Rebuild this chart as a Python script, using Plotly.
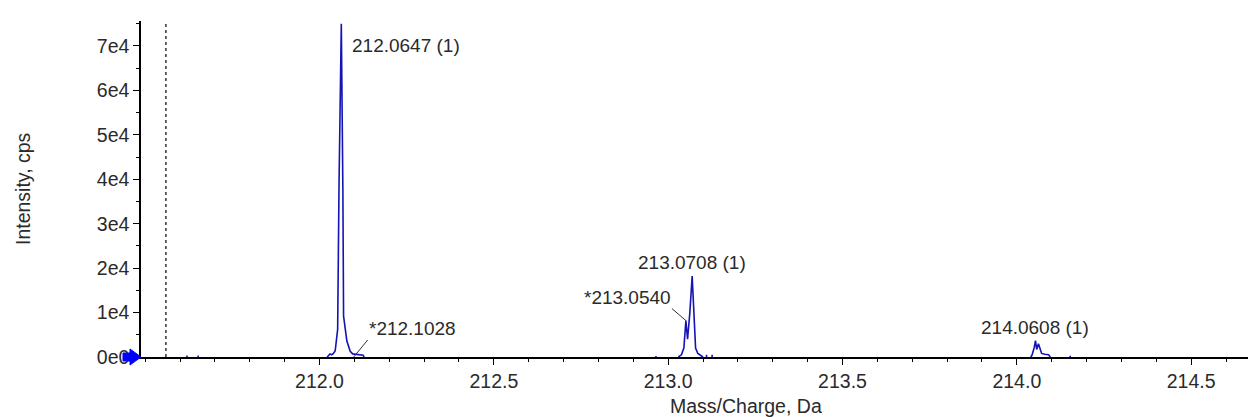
import plotly.graph_objects as go

# ---- data ----
peak1_mz = [212.022, 212.026, 212.030, 212.035, 212.040, 212.045, 212.052, 212.056, 212.0625,
            212.067, 212.069, 212.0785, 212.088, 212.095, 212.105, 212.115, 212.125, 212.128]
peak1_int = [0, 500, 700, 500, 800, 1400, 6200, 39000, 75000,
             38000, 9200, 3600, 1300, 700, 600, 500, 400, 0]

peak2_mz = [213.029, 213.038, 213.045, 213.0508, 213.0556, 213.0622, 213.0688, 213.0728,
            213.0786, 213.085, 213.0958, 213.100]
peak2_int = [0, 500, 2000, 8200, 4000, 10000, 18200, 10000, 2000, 800, 300, 0]

peak3_mz = [214.040, 214.044, 214.050, 214.0535, 214.057, 214.062, 214.066, 214.071, 214.080,
            214.091, 214.096]
peak3_int = [0, 500, 2200, 3700, 1700, 3000, 2000, 800, 600, 500, 0]

noise_mz = [211.620, 211.652, 212.965, 213.110, 213.126, 214.153]
noise_int = [350, 350, 250, 500, 500, 300]

x_tickvals = [212.0, 212.5, 213.0, 213.5, 214.0, 214.5]
x_ticktext = ["212.0", "212.5", "213.0", "213.5", "214.0", "214.5"]
y_tickvals = [0, 10000, 20000, 30000, 40000, 50000, 60000, 70000]
y_ticktext = ["0e0", "1e4", "2e4", "3e4", "4e4", "5e4", "6e4", "7e4"]

labels = [
    # text, x, y
    ("212.0647 (1)", 212.0625, 75000),
    ("*212.1028", 212.098, 0),
    ("*213.0540", 213.0508, 8200),
    ("213.0708 (1)", 213.0688, 18200),
    ("214.0608 (1)", 214.0535, 3700),
]

x_range = [211.488, 214.663]
y_range = [0, 75620]
dotted_x = 211.5595

BLUE = "#1414B4"
TXT = "#2a2a2a"
FONT = "Arial, Liberation Sans, sans-serif"

# build profile with gaps between clusters
xs, ys = [], []
for mz, it in ((peak1_mz, peak1_int), (peak2_mz, peak2_int), (peak3_mz, peak3_int)):
    xs += mz + [None]
    ys += it + [None]
for m, i in zip(noise_mz, noise_int):
    xs += [m, m, None]
    ys += [0, i, None]

fig = go.Figure()
fig.add_trace(go.Scatter(x=xs, y=ys, mode="lines", line=dict(color=BLUE, width=1.6),
                         hoverinfo="skip", showlegend=False, connectgaps=False))

fig.update_layout(
    width=1248, height=417,
    margin=dict(l=141, r=0, t=21, b=60),
    paper_bgcolor="white", plot_bgcolor="white",
    showlegend=False,
    font=dict(family=FONT, size=19, color=TXT),
)

fig.update_xaxes(
    range=x_range, showgrid=False, zeroline=False,
    showline=True, linecolor="black", linewidth=1.5,
    ticks="outside", ticklen=6, tickwidth=1, tickcolor="black",
    tickvals=x_tickvals, ticktext=x_ticktext,
    tickfont=dict(size=19.5, color=TXT, family=FONT),
    minor=dict(dtick=0.1, tick0=212.0, ticks="outside", ticklen=3, tickcolor="black", showgrid=False),
)
fig.update_yaxes(
    range=y_range, showgrid=False, zeroline=False,
    showline=True, linecolor="black", linewidth=1.5,
    ticks="outside", ticklen=6, tickwidth=1, tickcolor="black",
    tickvals=y_tickvals, ticktext=y_ticktext,
    tickfont=dict(size=19.5, color=TXT, family=FONT),
    minor=dict(dtick=5000, tick0=0, ticks="outside", ticklen=3, tickcolor="black", showgrid=False),
)

# dotted vertical marker line
fig.add_shape(type="line", xref="x", yref="y domain", x0=dotted_x, x1=dotted_x, y0=0, y1=1,
              line=dict(color="black", width=1.2, dash="dot"))

# blue arrow marker at the origin (left end of the x axis)
fig.add_shape(type="path", xref="paper", yref="paper", xsizemode="pixel", ysizemode="pixel",
              xanchor=0, yanchor=0,
              path="M-18,-4 L-11,-4 L-11,-8 L0,0 L-11,8 L-11,4 L-18,4 Z",
              fillcolor="#0000FF", line=dict(color="#0000FF", width=1), layer="above")

# peak labels
ann_cfg = [
    dict(showarrow=True, ax=10, ay=10, xanchor="left", yanchor="top"),
    dict(showarrow=True, ax=14, ay=-17, xanchor="left", yanchor="bottom"),
    dict(showarrow=True, ax=-14, ay=-12, xanchor="right", yanchor="bottom"),
    dict(showarrow=False, xanchor="center", yanchor="bottom", yshift=2),
    dict(showarrow=False, xanchor="center", yanchor="bottom", yshift=2),
]
for (txt, x, y), cfg in zip(labels, ann_cfg):
    fig.add_annotation(x=x, y=y, xref="x", yref="y", text=txt,
                       font=dict(size=19, color=TXT, family=FONT),
                       arrowhead=0, arrowwidth=1, arrowcolor="#333333",
                       borderpad=0, **cfg)

# axis titles
fig.add_annotation(text="Mass/Charge, Da", xref="paper", yref="paper",
                   x=(746 - 141) / 1107, y=-(406 - 357) / 336, xanchor="center", yanchor="middle",
                   showarrow=False, font=dict(size=19.5, color=TXT, family=FONT))
fig.add_annotation(text="Intensity, cps", xref="paper", yref="paper",
                   x=-(141 - 23) / 1107, y=(357 - 189) / 336, xanchor="center", yanchor="middle",
                   textangle=-90, showarrow=False, font=dict(size=19.5, color=TXT, family=FONT))

fig.write_html("out.html")
